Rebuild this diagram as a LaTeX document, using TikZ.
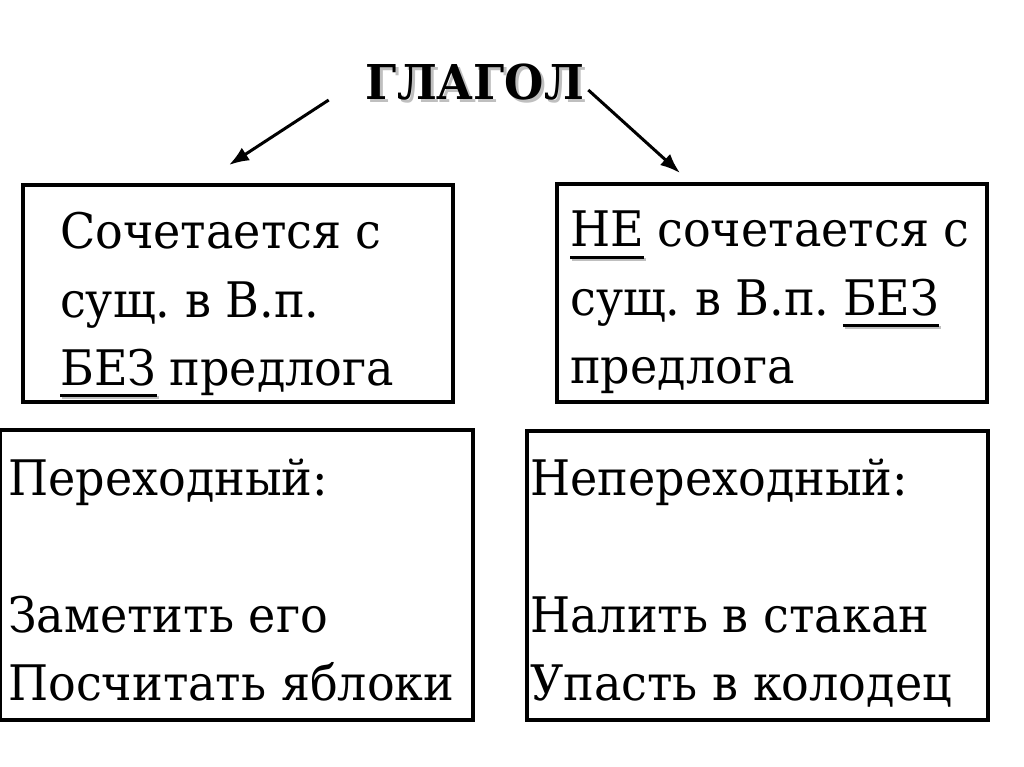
\documentclass[tikz,border=0pt]{standalone}
\usepackage{fontspec}
\setmainfont{DejaVu Serif}[FakeStretch=0.94]
\frenchspacing
\usetikzlibrary{arrows.meta}
\tikzset{
	box/.style={draw, line width=3.5pt, inner sep=0pt},
	txt/.style={anchor=base west, inner sep=0pt, font=\fontsize{49}{68}\selectfont},
	head/.style={anchor=base, inner sep=0pt, font=\fontsize{48}{60}\selectfont\bfseries},
	pointer/.style={line width=3pt, -{Latex[length=20pt, width=15pt]}},
	uline/.style={line width=3pt},
	ushadow/.style={line width=3pt, black!25}
}
\def\underword(#1){%
	\draw[ushadow] ([shift={(2pt,-12pt)}]#1.base west) -- ([shift={(2pt,-12pt)}]#1.base east);
	\draw[uline] ([yshift=-10pt]#1.base west) -- ([yshift=-10pt]#1.base east);}

\begin{document}
\begin{tikzpicture}[x=1pt, y=-1pt]
		%%%%% START %%%%%
		\useasboundingbox[fill=white] (0, 0) rectangle (1024, 767);
		
		\node[head, text=black!25] (verbshadow) at (478, 103) {ГЛАГОЛ};
		\node[head] (verb) at (475, 100) {ГЛАГОЛ};
		
		\coordinate (lfrom) at ([xshift=-37pt]verb.base west);
		\coordinate (rfrom) at ([shift={(4pt,10pt)}]verb.base east);
		\coordinate (lto) at (229, 165);
		\coordinate (rto) at (680, 173);
		\draw[pointer] (lfrom) -- (lto);
		\draw[pointer] (rfrom) -- (rto);
		
		\node[box, minimum width=430pt, minimum height=217pt] (combines) at (238, 293.5) {};
		\node[box, minimum width=430pt, minimum height=218pt] (notcombines) at (772, 293) {};
		\node[box, minimum width=473pt, minimum height=290pt] (transitive) at (236.5, 575) {};
		\node[box, minimum width=461pt, minimum height=289pt] (intransitive) at (757.5, 575.5) {};
		
		% left upper box
		\node[txt] (ca) at (60, 248) {Сочетается с};
		\node[txt] (cb) at (60, 317) {сущ. в В.п.};
		\node[txt] (cbez) at (60, 385) {БЕЗ};
		\node[txt] (cc) at ([xshift=13pt]cbez.base east) {предлога};
		\underword(cbez)
		
		% right upper box
		\node[txt] (nne) at (570, 247) {НЕ};
		\node[txt] (na) at ([xshift=13pt]nne.base east) {сочетается с};
		\node[txt] (nb) at (570, 315) {сущ. в В.п.};
		\node[txt] (nbez) at ([xshift=13pt]nb.base east) {БЕЗ};
		\node[txt] (nc) at (570, 383) {предлога};
		\underword(nne)
		\underword(nbez)
		
		% lower boxes
		\node[txt] (ta) at (8, 495) {Переходный:};
		\node[txt] (tb) at (8, 632) {Заметить его};
		\node[txt] (tc) at (8, 700) {Посчитать яблоки};
		
		\node[txt] (ia) at (530, 495) {Непереходный:};
		\node[txt] (ib) at (530, 632) {Налить в стакан};
		\node[txt] (ic) at (530, 700) {Упасть в колодец};
		%%%%% END %%%%%
	\end{tikzpicture}
\end{document}
